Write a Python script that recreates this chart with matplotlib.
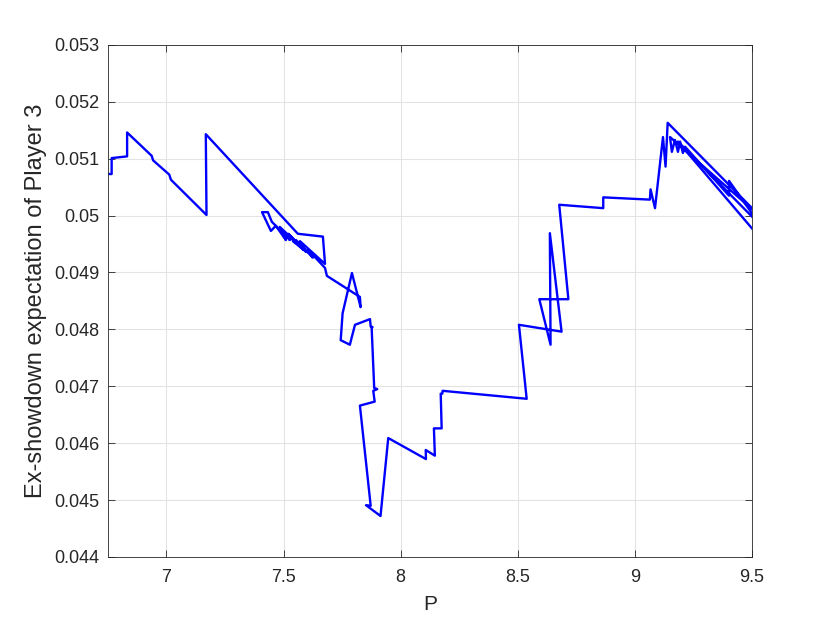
import numpy as np
import matplotlib.pyplot as plt

plt.rcParams['font.family'] = ['Liberation Sans', 'DejaVu Sans']

# Ex-showdown expectation of Player 3 as a function of P (path order kept)
p_vals = [
    6.733, 6.766, 6.766, 6.832, 6.832, 6.937, 6.943, 7.012, 7.019, 7.171,
    7.168, 7.561, 7.668, 7.677, 7.570, 7.596, 7.484, 7.527, 7.450, 7.433,
    7.408, 7.446, 7.467, 7.510, 7.489, 7.574, 7.520, 7.585, 7.540, 7.553,
    7.625, 7.604, 7.677, 7.685, 7.826, 7.829, 7.792, 7.752, 7.744, 7.783,
    7.805, 7.869, 7.872, 7.880, 7.876, 7.887, 7.900, 7.883, 7.889, 7.826,
    7.872, 7.852, 7.914, 7.947, 8.108, 8.107, 8.146, 8.142, 8.175, 8.171,
    8.178, 8.179, 8.538, 8.505, 8.687, 8.637, 8.640, 8.592, 8.716, 8.677,
    8.865, 8.865, 9.064, 9.067, 9.086, 9.120, 9.131, 9.140, 9.534, 9.150,
    9.158, 9.171, 9.184, 9.193, 9.205, 9.214, 9.402, 9.402, 9.534, 9.184,
    9.534,
]
expectation = [
    0.05073, 0.05073, 0.05101, 0.05104, 0.05146, 0.05105, 0.05097, 0.05072, 0.05063, 0.05001,
    0.05143, 0.04968, 0.04963, 0.04915, 0.04955, 0.04936, 0.04980, 0.04957, 0.04989, 0.05006,
    0.05006, 0.04973, 0.04982, 0.04957, 0.04975, 0.04945, 0.04968, 0.04940, 0.04955, 0.04957,
    0.04926, 0.04940, 0.04908, 0.04894, 0.04857, 0.04839, 0.04899, 0.04828, 0.04781, 0.04773,
    0.04808, 0.04818, 0.04805, 0.04804, 0.04804, 0.04697, 0.04695, 0.04692, 0.04673, 0.04666,
    0.04490, 0.04491, 0.04472, 0.04609, 0.04572, 0.04588, 0.04578, 0.04626, 0.04626, 0.04687,
    0.04687, 0.04692, 0.04678, 0.04808, 0.04796, 0.04969, 0.04773, 0.04853, 0.04853, 0.05019,
    0.05013, 0.05032, 0.05028, 0.05046, 0.05013, 0.05138, 0.05086, 0.05163, 0.04999, 0.05138,
    0.05112, 0.05133, 0.05112, 0.05130, 0.05110, 0.05121, 0.05035, 0.05061, 0.04984, 0.05130,
    0.04961,
]

x_ticks = [7, 7.5, 8, 8.5, 9, 9.5]
x_labels = ['7', '7.5', '8', '8.5', '9', '9.5']
y_ticks = [0.044, 0.045, 0.046, 0.047, 0.048, 0.049, 0.05, 0.051, 0.052, 0.053]
y_labels = ['0.044', '0.045', '0.046', '0.047', '0.048', '0.049', '0.05', '0.051', '0.052', '0.053']

fig = plt.figure(figsize=(8.3, 6.23), dpi=100)
ax = fig.add_axes([0.130, 0.106, 0.776, 0.822])

ax.plot(p_vals, expectation, color='#0000ff', linewidth=1.7)

ax.set_xlim(6.75, 9.5)
ax.set_ylim(0.044, 0.053)
ax.set_xticks(x_ticks)
ax.set_xticklabels(x_labels)
ax.set_yticks(y_ticks)
ax.set_yticklabels(y_labels)

ax.grid(True, color='#e3e3e3', linewidth=0.8)
ax.set_axisbelow(True)
ax.tick_params(direction='in', length=5, width=0.6, colors='#262626',
               labelsize=13, top=True, right=True)
ax.tick_params(axis='x', pad=9)
ax.tick_params(axis='y', pad=6)
for s in ax.spines.values():
    s.set_color('#262626')
    s.set_linewidth(0.6)

ax.set_xlabel('P', fontsize=15, color='#262626', labelpad=6)
ax.set_ylabel('Ex-showdown expectation of Player 3', fontsize=17, color='#262626', labelpad=5)

fig.savefig('out.png', dpi=100)
